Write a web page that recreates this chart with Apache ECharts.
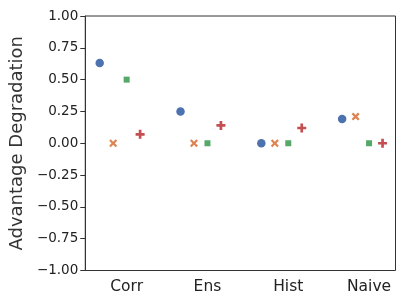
<!DOCTYPE html>
<html><head><meta charset="utf-8">
<script src="https://cdn.jsdelivr.net/npm/echarts@6/dist/echarts.min.js"></script>
<style>html,body{margin:0;padding:0;background:#fff}#c{width:407px;height:305px}</style>
</head><body><div id="c"></div>
<script>
var categories = ['Corr', 'Ens', 'Hist', 'Naive'];
var yTicks = [-1.0, -0.75, -0.5, -0.25, 0.0, 0.25, 0.5, 0.75, 1.0];
var seriesNames = ['A', 'B', 'C', 'D'];
var valuesCircle = [0.63, 0.25, 0.00, 0.19];
var valuesX = [0.00, 0.00, 0.00, 0.21];
var valuesSquare = [0.50, 0.00, 0.00, 0.00];
var valuesPlus = [0.07, 0.14, 0.12, 0.00];

var allValues = [valuesCircle, valuesX, valuesSquare, valuesPlus];
var colors = ['#4c72b0', '#dd8452', '#55a868', '#c44e52'];
var offsets = [-1/3, -1/6, 0, 1/6];
var xPath = 'path://M-3,-5L0,-2L3,-5L5,-3L2,0L5,3L3,5L0,2L-3,5L-5,3L-2,0L-5,-3Z';
var plusPath = 'path://M-1.5,-5L1.5,-5L1.5,-1.5L5,-1.5L5,1.5L1.5,1.5L1.5,5L-1.5,5L-1.5,1.5L-5,1.5L-5,-1.5L-1.5,-1.5Z';
var symbols = ['circle', xPath, 'rect', plusPath];
var sizes = [8.5, 8, 6, 9];

var chart = echarts.init(document.getElementById('c'), null, {renderer: 'canvas'});
var series = allValues.map(function (vals, s) {
  return {
    name: seriesNames[s],
    type: 'scatter',
    symbol: symbols[s],
    symbolSize: sizes[s],
    itemStyle: {color: colors[s], opacity: 1},
    data: vals.map(function (v, i) { return [i + offsets[s], v]; })
  };
});
chart.setOption({
  animation: false,
  grid: {left: 84, right: 11.5, top: 16, bottom: 34.5, show: true, borderColor: '#333', borderWidth: 1, backgroundColor: 'transparent'},
  xAxis: {
    type: 'value', min: -0.512, max: 3.327,
    axisLine: {show: false}, axisTick: {show: false}, splitLine: {show: false},
    axisLabel: {
      customValues: [0, 1, 2, 3],
      formatter: function (v) { return categories[Math.round(v)]; },
      fontFamily: 'DejaVu Sans', fontSize: 15.5, color: '#222', margin: 8
    }
  },
  yAxis: {
    type: 'value', min: -1, max: 1,
    name: 'Advantage Degradation', nameLocation: 'middle', nameRotate: 90, nameGap: 47,
    nameTextStyle: {fontFamily: 'DejaVu Sans', fontSize: 18, color: '#333'},
    axisLine: {show: true, onZero: false, lineStyle: {color: '#333'}},
    axisTick: {show: true, customValues: yTicks, length: 5, lineStyle: {color: '#333'}},
    splitLine: {show: false},
    axisLabel: {
      customValues: yTicks,
      formatter: function (v) { return (v < 0 ? '\u2212' : '') + Math.abs(v).toFixed(2); },
      fontFamily: 'DejaVu Sans', fontSize: 13.5, color: '#222', margin: 7
    }
  },
  series: series
});
</script></body></html>
